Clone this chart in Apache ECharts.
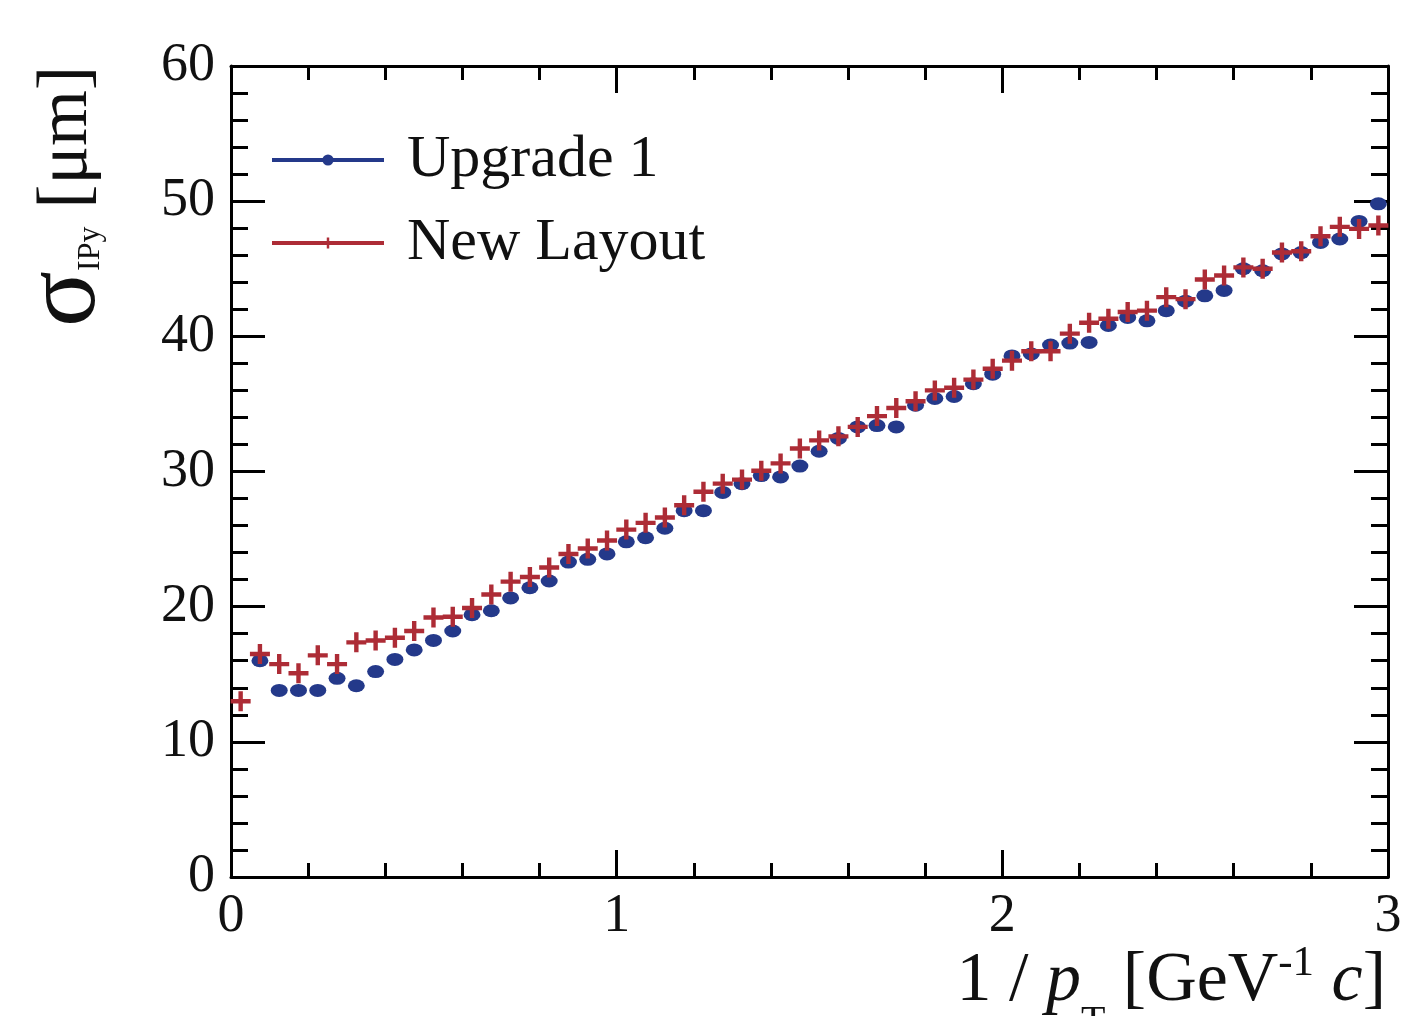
<!DOCTYPE html>
<html>
<head>
<meta charset="utf-8">
<script src="https://cdn.jsdelivr.net/npm/echarts@6/dist/echarts.min.js"></script>
<style>
  html, body { margin: 0; padding: 0; background: #fff; }
  #chart { width: 1412px; height: 1016px; }
</style>
</head>
<body>
<div id="chart"></div>
<script>
const BLUE = '#24398a', RED = '#ad2c36'
const FONT = '"Liberation Serif", "DejaVu Serif", serif'

// bin centres of 1/pT, 0.05 wide bins
const binCenters = [
  0.025, 0.075, 0.125, 0.175, 0.225, 0.275, 0.325, 0.375, 0.425, 0.475,
  0.525, 0.575, 0.625, 0.675, 0.725, 0.775, 0.825, 0.875, 0.925, 0.975,
  1.025, 1.075, 1.125, 1.175, 1.225, 1.275, 1.325, 1.375, 1.425, 1.475,
  1.525, 1.575, 1.625, 1.675, 1.725, 1.775, 1.825, 1.875, 1.925, 1.975,
  2.025, 2.075, 2.125, 2.175, 2.225, 2.275, 2.325, 2.375, 2.425, 2.475,
  2.525, 2.575, 2.625, 2.675, 2.725, 2.775, 2.825, 2.875, 2.925, 2.975,
]

const upgrade1 = [
  null, 16.0, 13.8, 13.8, 13.8, 14.7, 14.15, 15.2, 16.1, 16.8,
  17.5, 18.2, 19.4, 19.7, 20.65, 21.4, 21.9, 23.3, 23.5, 23.9,
  24.8, 25.1, 25.8, 27.1, 27.1, 28.45, 29.1, 29.7, 29.6, 30.4,
  31.5, 32.45, 33.3, 33.4, 33.3, 34.9, 35.4, 35.55, 36.5, 37.2,
  38.55, 38.7, 39.35, 39.5, 39.55, 40.8, 41.4, 41.15, 41.9, 42.6,
  43.0, 43.4, 45.0, 44.85, 46.1, 46.2, 46.95, 47.2, 48.5, 49.8,
]

const newLayout = [
  13.0, 16.5, 15.75, 15.07, 16.4, 15.75, 17.36, 17.5, 17.7, 18.2,
  19.2, 19.25, 19.9, 20.9, 21.85, 22.2, 22.9, 23.9, 24.3, 24.9,
  25.7, 26.2, 26.6, 27.5, 28.5, 29.1, 29.4, 30.05, 30.6, 31.7,
  32.3, 32.6, 33.3, 34.1, 34.7, 35.2, 36.0, 36.2, 36.8, 37.6,
  38.2, 38.9, 38.9, 40.2, 41.0, 41.3, 41.8, 41.9, 42.9, 42.75,
  44.2, 44.5, 45.1, 45.0, 46.2, 46.3, 47.4, 48.1, 47.95, 48.2,
]

const xTicks = [0, 1, 2, 3]
const yTicks = [0, 10, 20, 30, 40, 50, 60]

const PLUS = 'path://M39,0H61V39H100V61H61V100H39V61H0V39H39Z'

const chart = echarts.init(document.getElementById('chart'), null, { renderer: 'canvas' })

const frameAxis = (extra) => Object.assign({
  type: 'value',
  axisLine: { show: true, onZero: false, lineStyle: { color: '#000', width: 3 } },
  splitLine: { show: false },
  minorSplitLine: { show: false },
}, extra)

const xRange = { min: xTicks[0], max: xTicks[xTicks.length - 1], interval: 1 }
const yRange = { min: yTicks[0], max: yTicks[yTicks.length - 1], interval: 10 }

const ticks = (len) => ({ show: true, inside: true, length: len, lineStyle: { color: '#000', width: 3 } })
const minor = (len) => ({ show: true, splitNumber: 5, length: len, lineStyle: { color: '#000', width: 3 } })

const tickLabel = (margin) => ({
  margin, color: '#111', fontFamily: FONT, fontSize: 54,
  showMinLabel: true, showMaxLabel: true,
})

chart.setOption({
  backgroundColor: '#fff',
  animation: false,
  grid: { left: 231, right: 24, top: 66, bottom: 139, containLabel: false },
  xAxis: [
    frameAxis(Object.assign({}, xRange, {
      position: 'bottom', axisTick: ticks(27), minorTick: minor(14), axisLabel: tickLabel(13),
    })),
    frameAxis(Object.assign({}, xRange, {
      position: 'top', axisTick: ticks(27), minorTick: minor(14), axisLabel: { show: false },
    })),
  ],
  yAxis: [
    frameAxis(Object.assign({}, yRange, {
      position: 'left', axisTick: ticks(34), minorTick: minor(17), axisLabel: tickLabel(16),
    })),
    frameAxis(Object.assign({}, yRange, {
      position: 'right', axisTick: ticks(34), minorTick: minor(17), axisLabel: { show: false },
    })),
  ],
  legend: {
    orient: 'vertical',
    left: 270, top: 130,
    padding: 0,
    itemWidth: 112, itemHeight: 14, itemGap: 23,
    textStyle: {
      fontFamily: FONT, fontSize: 60, lineHeight: 60, color: '#111',
      padding: [0, 0, 0, 18],
    },
    selectedMode: false,
    data: [
      { name: 'Upgrade 1', lineStyle: { color: BLUE, width: 4, opacity: 1 }, itemStyle: { color: BLUE } },
      { name: 'New Layout', lineStyle: { color: RED, width: 4, opacity: 1 }, itemStyle: { color: RED } },
    ],
  },
  series: [
    {
      name: 'Upgrade 1',
      type: 'line',
      xAxisIndex: 0, yAxisIndex: 0,
      data: binCenters.map((x, i) => [x, upgrade1[i]]),
      symbol: 'circle', symbolSize: [17, 13],
      showSymbol: true,
      itemStyle: { color: BLUE },
      lineStyle: { color: BLUE, width: 0, opacity: 0 },
      emphasis: { disabled: true },
      z: 3,
    },
    {
      name: 'New Layout',
      type: 'line',
      xAxisIndex: 0, yAxisIndex: 0,
      data: binCenters.map((x, i) => [x, newLayout[i]]),
      symbol: PLUS, symbolSize: 20,
      showSymbol: true,
      itemStyle: { color: RED },
      lineStyle: { color: RED, width: 0, opacity: 0 },
      emphasis: { disabled: true },
      z: 4,
    },
  ],
  graphic: [
    {
      // y-axis title, rotated, reading bottom to top
      type: 'text',
      x: 2, y: 327,
      rotation: Math.PI / 2,
      style: {
        text: '{s|σ}{sub|IPy}{u| [μm]}',
        align: 'left', verticalAlign: 'top',
        fill: '#111',
        rich: {
          s: { fontFamily: FONT, fontSize: 104, lineHeight: 130, fill: '#111' },
          sub: { fontFamily: FONT, fontSize: 32, verticalAlign: 'bottom', padding: [0, 0, 25, 0], fill: '#111' },
          u: { fontFamily: FONT, fontSize: 72, lineHeight: 72, fill: '#111' },
        },
      },
    },
    {
      // x-axis title, right aligned to the frame
      type: 'text',
      x: 1386, y: 922,
      style: {
        text: '{m|1 / }{i|p}{sub|T}{m| [GeV}{sup|-1}{m| }{i|c}{m|]}',
        align: 'right', verticalAlign: 'top',
        fill: '#111',
        rich: {
          m: { fontFamily: FONT, fontSize: 70, lineHeight: 120, fill: '#111' },
          i: { fontFamily: FONT, fontSize: 70, fontStyle: 'italic', lineHeight: 120, fill: '#111' },
          sub: { fontFamily: FONT, fontSize: 40, verticalAlign: 'bottom', fill: '#111' },
          sup: { fontFamily: FONT, fontSize: 43, verticalAlign: 'top', padding: [20, 0, 0, 0], fill: '#111' },
        },
      },
    },
  ],
})
</script>
</body>
</html>
